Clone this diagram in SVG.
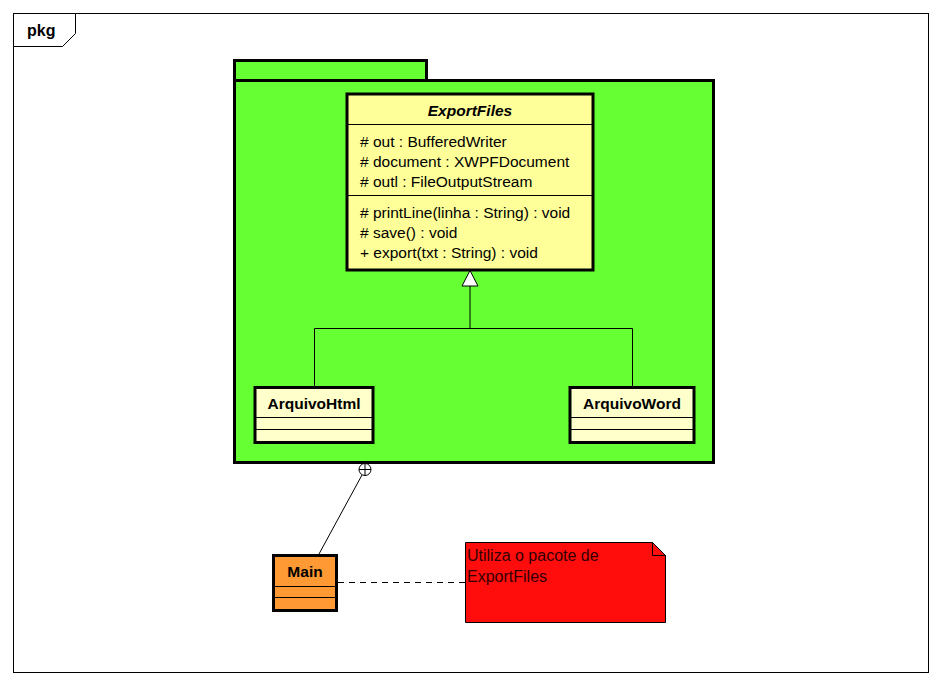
<svg xmlns="http://www.w3.org/2000/svg" width="941" height="685" viewBox="0 0 941 685">
<style>
  text { font-family: "Liberation Sans", Arial, sans-serif; font-size: 15.5px; fill: #000; }
  .b { font-weight: bold; }
  .bi { font-weight: bold; font-style: italic; }
  .note { font-size: 16px; fill: #330000; }
  .thick { stroke: #000; stroke-width: 3; }
  .thin { stroke: #000; stroke-width: 1; fill: none; }
</style>
<rect x="0" y="0" width="941" height="685" fill="#fff"/>
<g id="frame">
  <rect x="13.5" y="13.5" width="915" height="659" fill="none" stroke="#000" stroke-width="1"/>
  <polygon points="13.5,13.5 75.5,13.5 75.5,33.5 62.5,46.5 13.5,46.5" fill="#fff" stroke="#000" stroke-width="1"/>
  <text x="27" y="36" class="b" style="font-size:16px">pkg</text>
</g>
<g id="package">
  <rect x="234.5" y="60.5" width="192" height="20" fill="#66FF33" class="thick"/>
  <rect x="234.5" y="80.5" width="479" height="382" fill="#66FF33" class="thick"/>
</g>
<g id="ExportFiles">
  <rect x="347" y="94" width="246" height="176" fill="#FFFF99" class="thick"/>
  <line x1="347" y1="124.5" x2="593" y2="124.5" class="thin"/>
  <line x1="347" y1="195.5" x2="593" y2="195.5" class="thin"/>
  <text x="470" y="116" text-anchor="middle" class="bi">ExportFiles</text>
  <text x="360" y="147"># out : BufferedWriter</text>
  <text x="360" y="167"># document : XWPFDocument</text>
  <text x="360" y="187"># outl : FileOutputStream</text>
  <text x="360" y="218"># printLine(linha : String) : void</text>
  <text x="360" y="238"># save() : void</text>
  <text x="360" y="258">+ export(txt : String) : void</text>
</g>
<g id="ArquivoHtml">
  <rect x="255" y="387.5" width="118" height="55" fill="#FFFFCC" class="thick"/>
  <line x1="255" y1="417.5" x2="373" y2="417.5" class="thin"/>
  <line x1="255" y1="429.5" x2="373" y2="429.5" class="thin"/>
  <text x="314" y="409" text-anchor="middle" class="b">ArquivoHtml</text>
</g>
<g id="ArquivoWord">
  <rect x="570" y="387.5" width="124" height="55" fill="#FFFFCC" class="thick"/>
  <line x1="570" y1="417.5" x2="694" y2="417.5" class="thin"/>
  <line x1="570" y1="429.5" x2="694" y2="429.5" class="thin"/>
  <text x="632" y="409" text-anchor="middle" class="b">ArquivoWord</text>
</g>
<g id="Main">
  <rect x="273.5" y="555.5" width="63" height="55" fill="#FF9933" class="thick"/>
  <line x1="273.5" y1="586.5" x2="336.5" y2="586.5" class="thin"/>
  <line x1="273.5" y1="597.5" x2="336.5" y2="597.5" class="thin"/>
  <text x="305" y="577" text-anchor="middle" class="b">Main</text>
</g>
<g id="note">
  <polygon points="465.5,542.5 652.5,542.5 665.5,555.5 665.5,622.5 465.5,622.5" fill="#FF0D0D" stroke="#000" stroke-width="1"/>
  <polyline points="652.5,542.5 652.5,555.5 665.5,555.5" fill="none" stroke="#000" stroke-width="1"/>
  <text x="467" y="561" class="note">Utiliza o pacote de</text>
  <text x="467" y="582" class="note">ExportFiles</text>
</g>
<g id="connectors">
  <polyline points="470,286 470,328.5 314.5,328.5 314.5,387" class="thin"/>
  <polyline points="470,328.5 632.5,328.5 632.5,387" class="thin"/>
  <polygon points="470,270.5 462,286 478,286" fill="#fff" stroke="#000" stroke-width="1"/>
  <circle cx="365" cy="469.5" r="6" fill="#fff" stroke="#000" stroke-width="1"/>
  <line x1="359" y1="469.5" x2="371" y2="469.5" class="thin"/>
  <line x1="365" y1="463.5" x2="365" y2="475.5" class="thin"/>
  <line x1="362" y1="475" x2="319" y2="554" class="thin"/>
  <line x1="338" y1="582.5" x2="465" y2="582.5" stroke="#000" stroke-width="1" stroke-dasharray="6,5"/>
</g>
</svg>
